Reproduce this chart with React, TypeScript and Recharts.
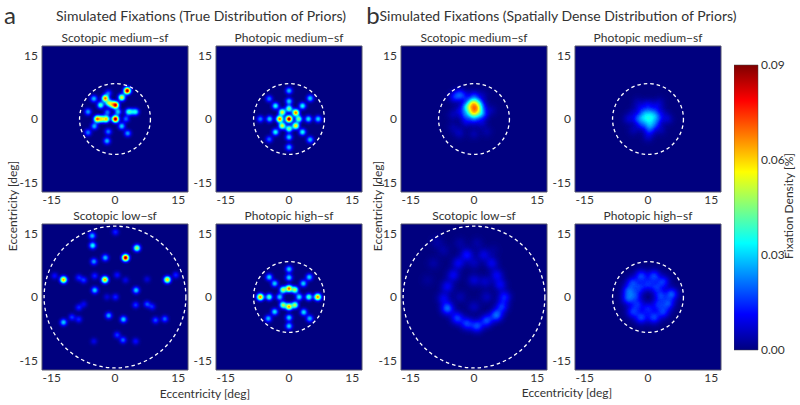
import React from 'react';
import {
  BarChart, Bar, ScatterChart, Scatter, XAxis, YAxis, CartesianGrid, ReferenceArea, ReferenceDot,
} from 'recharts';

type Blob = [number, number, number]; // x deg, y deg, density %

const axisTicks = [-15, 0, 15];
const densityTicks = [0, 0.03, 0.06, 0.09];
const maxDensity = 0.09;

const trueScotopicMedium: Blob[] = [
  [2.9, 6.7, 0.09], [0.1, 3.3, 0.085], [0.1, 0, 0.09], [-4.2, 0, 0.07], [-2.1, 0, 0.06], [-3.2, 0, 0.05],
  [-2.3, 4.9, 0.07], [-1.5, 3.8, 0.045], [-0.7, 3.5, 0.045], [1.6, 5.1, 0.055], [-1.6, 6.1, 0.02],
  [-5, 4.8, 0.028], [-3.4, 3.3, 0.04], [-6.4, 1.7, 0.025], [0.7, 1.7, 0.03], [-1.8, 1.6, 0.022],
  [3.2, 1.7, 0.035], [4.9, 1.7, 0.032], [4, 1.7, 0.02], [2.6, 0, 0.02], [-4.9, -1.7, 0.028], [1.6, -1.7, 0.03],
  [-6.4, -3.2, 0.022], [-1.6, -3, 0.022], [3, -3.4, 0.025], [-1.9, -5.2, 0.028],
];
const truePhotopicMedium: Blob[] = [
  [0, 0, 0.09], [-2.2, 0, 0.07], [1.6, 1.5, 0.07], [1.6, -1.6, 0.06], [-1.6, 1.6, 0.055], [-1.6, -1.6, 0.055],
  [0, 2.45, 0.045], [0, -2.3, 0.045], [2.3, 0, 0.045], [0, 4.2, 0.03], [0, 6.7, 0.028], [0, -4.3, 0.03],
  [0, -6.7, 0.028], [-3.2, 3.1, 0.035], [3.2, 3.1, 0.035], [-3.2, -3.1, 0.035], [3.2, -3.1, 0.035],
  [-4.7, 4.8, 0.022], [5, 4.9, 0.03], [-4.7, -4.8, 0.02], [5, -4.9, 0.028], [-4.6, 0, 0.03], [-6.8, 0, 0.022],
  [4.6, 0, 0.032], [6.9, 0, 0.03],
];
const trueScotopicLow: Blob[] = [
  [2.5, 9.3, 0.09], [-12.2, 4.1, 0.065], [-2.4, 4.1, 0.065], [12.4, 4.1, 0.06], [5.2, 11.6, 0.05],
  [-5.4, 14.5, 0.028], [-5.3, 12.2, 0.035], [-5, 8.4, 0.025], [-2.3, 9.3, 0.028], [0.1, 15.4, 0.014],
  [-4.8, 5, 0.014], [-14.3, 5, 0.012], [-8.6, 4.6, 0.014], [-7.4, 4, 0.016], [-4.8, 1.6, 0.03], [5, 1.6, 0.03],
  [0.1, 0, 0.014], [2.5, 4, 0.009], [14.4, 5.2, 0.014], [7.6, 4.2, 0.008], [0.5, 5.2, 0.012], [-1.9, 0, 0.008],
  [-8.6, -2.5, 0.014], [-7.4, -1.7, 0.01], [4.9, -1.9, 0.016], [7.6, -1.7, 0.018], [8.8, -2.3, 0.014],
  [-12.2, -6, 0.03], [-10.2, -4.8, 0.016], [-8.6, -5.3, 0.014], [-1.5, -4.4, 0.026], [2, -5.3, 0.03],
  [9.6, -5.5, 0.018], [11.8, -5.2, 0.02], [0.5, -9, 0.016], [1.9, -10.2, 0.02], [4.9, -10.5, 0.012],
  [-5, -10.5, 0.009],
];
const truePhotopicHigh: Blob[] = [
  [0, 2, 0.07], [0, -2.3, 0.065], [-1.4, 1.7, 0.05], [1.4, 1.7, 0.05], [-1.4, -1.9, 0.05], [1.4, -1.9, 0.05],
  [-2.2, 0, 0.03], [2.4, 0, 0.033], [-6.8, 0, 0.068], [6.8, 0, 0.068], [-4.7, 0, 0.04], [4.7, 0, 0.04],
  [0, 4.6, 0.03], [0, 6.6, 0.03], [0, -4.9, 0.03], [0, -6.9, 0.03], [-3.4, 3.2, 0.03], [3.4, 3.2, 0.03],
  [-3.4, -3.5, 0.032], [3.5, -3.6, 0.032], [-4.7, 4.7, 0.03], [4.8, 4.7, 0.03], [-4.9, -5.1, 0.028], [4.9, -5.1, 0.028],
];
const denseScotopicMedium: Blob[] = [
  [-0.2, 3.6, 0.04], [0.4, 2.6, 0.045], [-0.2, 1.6, 0.04], [-0.8, 2.8, 0.025], [0.9, 1.6, 0.02], [0.9, 3.8, 0.015],
  [-1.9, 2.8, 0.018], [-2, 1, 0.014], [2, 1.2, 0.015], [1.9, 3, 0.009], [-3.4, 5.8, 0.014], [-4.6, 5.2, 0.011],
  [-2.2, 5.2, 0.008], [0, 5.4, 0.012], [0, 0, 0.012], [-3.5, 2, 0.005], [-1.8, -0.6, 0.007], [1.8, -0.8, 0.006],
  [-3.5, -3.3, 0.005], [0, -3.5, 0.004], [3, -3, 0.003], [-5, 1, 0.004], [4, 2, 0.004], [2, 5.5, 0.004], [-5, -2, 0.003],
];
const densePhotopicMedium: Blob[] = [
  [0, 0.2, 0.018], [-1.2, 0.2, 0.014], [1.2, 0.4, 0.014], [0.4, -1.2, 0.018], [0.2, 1.6, 0.012], [-1, 1.4, 0.01],
  [1.6, 1.4, 0.01], [-2.4, 0, 0.012], [2.4, 0.2, 0.01], [0.4, -2.6, 0.012], [-1.4, -1.4, 0.01], [1.8, -1.2, 0.01],
  [-1.8, 2.6, 0.006], [2, 3, 0.006], [0, 3.4, 0.008], [-4.6, 0, 0.006], [4.6, 0, 0.006], [-3.4, -2.6, 0.004],
  [3, -2.6, 0.004], [0, -4.2, 0.005], [-2.4, 4, 0.003], [2.8, 4, 0.003], [-3.5, 1.5, 0.004], [3.5, 1.5, 0.004],
];
const denseScotopicLow: Blob[] = [
  [-6.3, -2.7, 0.02], [-4, -5, 0.016], [-1.7, -6.3, 0.016], [0.7, -6.9, 0.017], [3, -5.6, 0.017], [5.3, -4.3, 0.02],
  [6.6, -2.3, 0.014], [7.2, 0, 0.013], [6.2, 2.9, 0.01], [5.4, 5.2, 0.01], [4.2, 8, 0.009], [2.3, 10, 0.008],
  [-1.7, 10, 0.012], [-3.7, 8, 0.01], [-4.9, 5.2, 0.01], [-6.3, 2.5, 0.01], [-7.2, -0.3, 0.009], [0, 4, 0.007],
  [2.7, 3.6, 0.006], [-3.3, 0, 0.004], [3, 0, 0.005], [0, -2.3, 0.005], [0, 8, 0.005], [-9.6, 8, 0.003],
  [-7.2, 11, 0.003], [-11, 4, 0.002], [0.7, 12.7, 0.003], [-3.3, 12.7, 0.003], [4.6, 11, 0.002], [-8.8, 13, 0.003],
];
const densePhotopicHigh: Blob[] = [
  [-1.6, 5, 0.016], [1.4, 5, 0.016], [3.6, 3.6, 0.014], [5.6, 0.7, 0.018], [4.8, -1.6, 0.016], [3.6, -3.6, 0.014],
  [1.4, -4.9, 0.016], [-1.6, -4.9, 0.016], [-3.6, -3.5, 0.014], [-4.7, -0.4, 0.016], [-4.6, 1.5, 0.016], [-3.7, 3.4, 0.014],
  [0, 3, 0.012], [-2, 2.2, 0.012], [2, 2.2, 0.012], [3, 0.3, 0.014], [2.4, -1.8, 0.012], [0, -2.8, 0.012],
  [-2.4, -1.8, 0.012], [-3, 0.3, 0.012],
];

const font = 'Lato, sans-serif';
const textColor = '#333';
const jetStops = ['#00007f', '#0000ff', '#007fff', '#00ffff', '#7fff7f', '#ffff00', '#ff7f00', '#ff0000', '#7f0000'];
const gaussAlpha = [1, 0.956, 0.835, 0.667, 0.487, 0.325, 0.198, 0.11, 0.056, 0.026, 0];

const PLOT = 146;
const HALF = 17.3;
const PX_PER_DEG = PLOT / (2 * HALF);

const Label: React.FC<{ x: number; y: number; size: number; rotate?: boolean; children: React.ReactNode }> = ({ x, y, size, rotate, children }) => (
  <div style={{
    position: 'absolute', left: x, top: y, fontSize: size, fontFamily: font, color: textColor, whiteSpace: 'nowrap',
    transform: `translate(-50%,-50%)${rotate ? ' rotate(-90deg)' : ''}`,
  }}>{children}</div>
);

const Panel: React.FC<{ left: number; top: number; title: string; blobs: Blob[]; sigma: number; ring: number }> = ({ left, top, title, blobs, sigma, ring }) => {
  const data = blobs.map(([x, y, d]) => ({ x, y, d }));
  const r = sigma * 3 * PX_PER_DEG;
  return (
    <>
      <Label x={left + PLOT / 2} y={top - 9} size={12}>{title}</Label>
      <div className="heat" style={{ position: 'absolute', left: left - 30, top: top - 2 }}>
        <ScatterChart width={PLOT + 34} height={PLOT + 26} margin={{ top: 2, right: 4, bottom: 0, left: 0 }}>
          <CartesianGrid horizontal={false} vertical={false} fill="#00007f" />
          <XAxis type="number" dataKey="x" domain={[-HALF, HALF]} ticks={axisTicks} height={24} axisLine={false} tickLine={false} tickSize={0} tickMargin={3} tick={{ fontSize: 12, fill: textColor, fontFamily: font }} />
          <YAxis type="number" dataKey="y" domain={[-HALF, HALF]} ticks={axisTicks} width={30} axisLine={false} tickLine={false} tickSize={0} tickMargin={4} tick={{ fontSize: 12, fill: textColor, fontFamily: font }} />
          <Scatter
            data={data}
            isAnimationActive={false}
            shape={(p: any) => <circle cx={p.cx} cy={p.cy} r={r} fill="url(#blob)" fillOpacity={p.payload.d / maxDensity} />}
          />
          <ReferenceArea x1={-HALF} x2={HALF} y1={-HALF} y2={HALF} fill="none" stroke="#55556f" strokeWidth={1} />
          <ReferenceDot x={0} y={0} r={ring * PX_PER_DEG} fill="none" stroke="#fff" strokeWidth={1.3} strokeDasharray="3.5 3" />
        </ScatterChart>
      </div>
    </>
  );
};

const barData = [{ name: 'density', value: maxDensity }];

export default function App() {
  return (
    <div style={{ position: 'absolute', left: 0, top: 0, width: 800, height: 405, background: '#fff', overflow: 'hidden' }}>
      <style>{'.heat .recharts-scatter{filter:url(#jet)}'}</style>
      <svg width={0} height={0} style={{ position: 'absolute' }}>
        <defs>
          <radialGradient id="blob">
            {gaussAlpha.map((a, i) => <stop key={i} offset={i / 10} stopColor="#fff" stopOpacity={a} />)}
          </radialGradient>
          <linearGradient id="jetBar" x1="0" y1="1" x2="0" y2="0">
            {jetStops.map((c, i) => <stop key={i} offset={i / 8} stopColor={c} />)}
          </linearGradient>
          <filter id="jet" x="0" y="0" width="100%" height="100%" colorInterpolationFilters="sRGB">
            <feColorMatrix type="matrix" values="0 0 0 1 0  0 0 0 1 0  0 0 0 1 0  0 0 0 0 1" />
            <feComponentTransfer>
              <feFuncR type="table" tableValues="0 0 0 0 .5 1 1 1 .5" />
              <feFuncG type="table" tableValues="0 0 .5 1 1 1 .5 0 0" />
              <feFuncB type="table" tableValues=".5 1 1 1 .5 0 0 0 0" />
            </feComponentTransfer>
          </filter>
        </defs>
      </svg>

      <Label x={10} y={14} size={24}>a</Label>
      <Label x={201} y={15} size={14}>Simulated Fixations (True Distribution of Priors)</Label>
      <Label x={373} y={14} size={24}>b</Label>
      <Label x={558} y={15} size={14}>Simulated Fixations (Spatially Dense Distribution of Priors)</Label>

      <Panel left={42} top={46} title="Scotopic medium−sf" blobs={trueScotopicMedium} sigma={0.55} ring={8.4} />
      <Panel left={216} top={46} title="Photopic medium−sf" blobs={truePhotopicMedium} sigma={0.55} ring={8.4} />
      <Panel left={42} top={224} title="Scotopic low−sf" blobs={trueScotopicLow} sigma={0.55} ring={16.8} />
      <Panel left={216} top={224} title="Photopic high−sf" blobs={truePhotopicHigh} sigma={0.55} ring={8.4} />
      <Panel left={401} top={46} title="Scotopic medium−sf" blobs={denseScotopicMedium} sigma={0.9} ring={8.4} />
      <Panel left={575} top={46} title="Photopic medium−sf" blobs={densePhotopicMedium} sigma={0.9} ring={8.4} />
      <Panel left={401} top={224} title="Scotopic low−sf" blobs={denseScotopicLow} sigma={1} ring={16.8} />
      <Panel left={575} top={224} title="Photopic high−sf" blobs={densePhotopicHigh} sigma={1} ring={8.4} />

      <Label x={12} y={206} size={12} rotate>Eccentricity [deg]</Label>
      <Label x={377} y={206} size={12} rotate>Eccentricity [deg]</Label>
      <Label x={205} y={393} size={12}>Eccentricity [deg]</Label>
      <Label x={567} y={392} size={12}>Eccentricity [deg]</Label>

      <div style={{ position: 'absolute', left: 734, top: 55 }}>
        <BarChart width={60} height={305} data={barData} barCategoryGap={0} margin={{ top: 10, right: 0, bottom: 10, left: 0 }}>
          <XAxis dataKey="name" hide />
          <YAxis orientation="right" domain={[0, maxDensity]} ticks={densityTicks} width={36} axisLine={false} tickLine={false} tickSize={0} tickMargin={3} tickFormatter={(v: number) => v.toFixed(2)} tick={{ fontSize: 12, fill: textColor, fontFamily: font }} />
          <Bar dataKey="value" fill="url(#jetBar)" stroke="#444" strokeWidth={0.5} isAnimationActive={false} />
        </BarChart>
      </div>
      <Label x={788} y={206} size={12} rotate>Fixation Density [%]</Label>
    </div>
  );
}
